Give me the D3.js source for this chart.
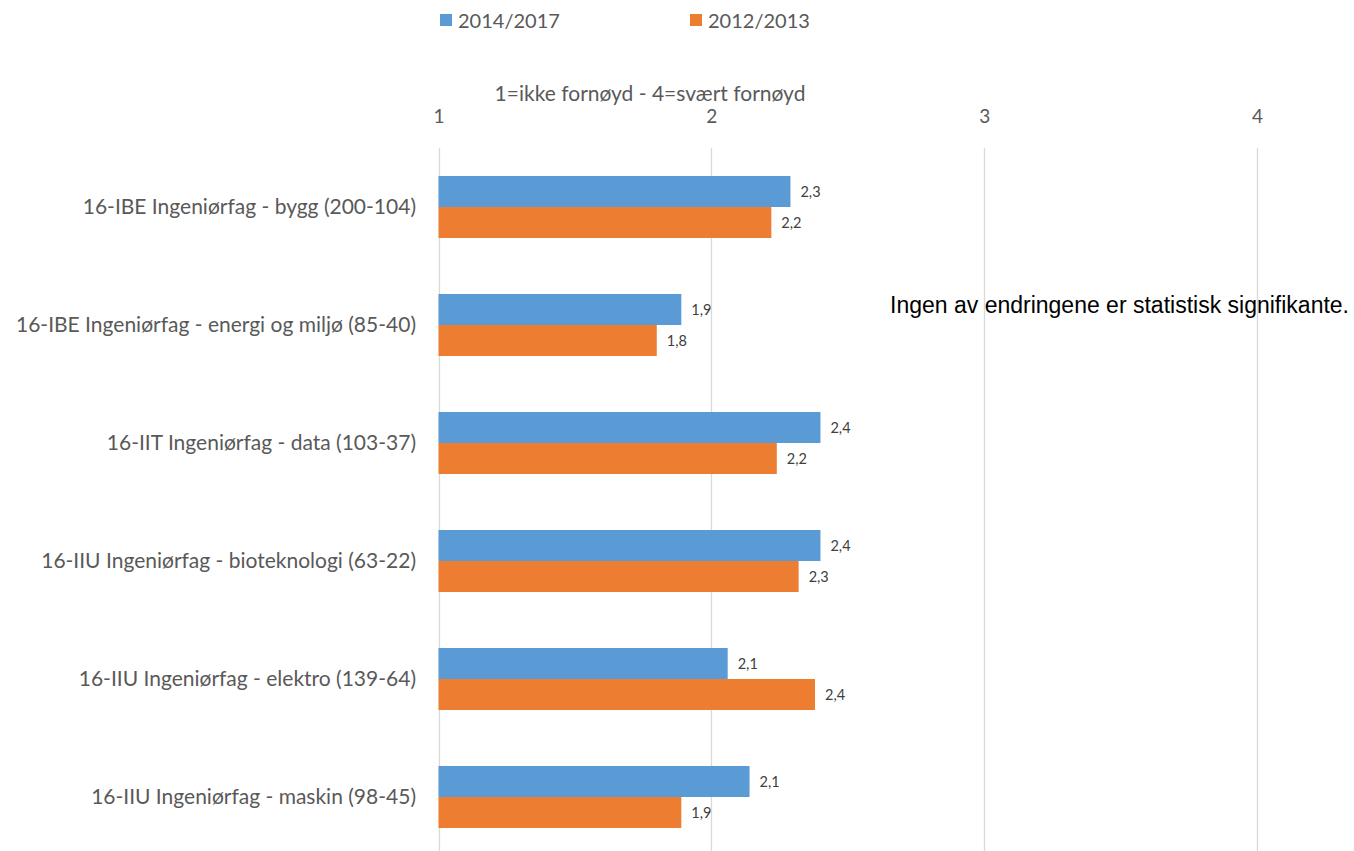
<!DOCTYPE html>
<html><head><meta charset="utf-8">
<script src="https://cdn.jsdelivr.net/npm/d3@7"></script>
<style>body{margin:0;background:#fff}</style>
</head><body>
<svg id="c" width="1354" height="851"></svg>
<script>
const categories = [
  "16-IBE Ingeniørfag - bygg (200-104)",
  "16-IBE Ingeniørfag - energi og miljø (85-40)",
  "16-IIT Ingeniørfag - data (103-37)",
  "16-IIU Ingeniørfag - bioteknologi (63-22)",
  "16-IIU Ingeniørfag - elektro (139-64)",
  "16-IIU Ingeniørfag - maskin (98-45)"
];
const seriesNames = ["2014/2017", "2012/2013"];
const values2014_2017 = [2.29, 1.89, 2.40, 2.40, 2.06, 2.14];
const values2012_2013 = [2.22, 1.80, 2.24, 2.32, 2.38, 1.89];
const xTicks = [1, 2, 3, 4];
const axisTitle = "1=ikke fornøyd - 4=svært fornøyd";
const note = "Ingen av endringene er statistisk signifikante.";
const colors = ["#5b9bd5", "#ed7d31"];

const svg = d3.select("#c");
const x = d3.scaleLinear().domain([1, 4]).range([438.5, 1257]);
const y = d3.scaleBand().domain(categories).range([148, 856]).paddingInner(56/118).paddingOuter(28/118);
const sub = d3.scaleBand().domain(seriesNames).range([0, y.bandwidth()]);
const fmt = v => d3.format(".1f")(v).replace(".", ",");

// gridlines
svg.append("g").selectAll("line").data(xTicks).join("line")
  .attr("x1", d => Math.round(x(d)) + 0.5).attr("x2", d => Math.round(x(d)) + 0.5)
  .attr("y1", 148).attr("y2", 851)
  .attr("stroke", "#d9d9d9").attr("stroke-width", 1.3);

// tick labels
const xAxis = d3.axisTop(x).tickValues(xTicks).tickSize(0).tickFormat(d3.format("d"));
const gx = svg.append("g").attr("transform", "translate(0,126)").call(xAxis);
gx.select(".domain").remove();
gx.selectAll("text").attr("font-family", "Lato, 'Open Sans', sans-serif").attr("font-size", 19).attr("fill", "#595959");

// axis title
svg.append("text").attr("x", 650).attr("y", 101).attr("text-anchor", "middle")
  .attr("font-family", "Lato, 'Open Sans', sans-serif").attr("font-size", 21).attr("fill", "#595959").text(axisTitle);

// bars
const data = categories.map((c, i) => ({c, vals: [values2014_2017[i], values2012_2013[i]]}));
const groups = svg.append("g").selectAll("g").data(data).join("g")
  .attr("transform", d => `translate(0,${y(d.c)})`);
groups.selectAll("rect").data(d => d.vals.map((v, j) => ({v, s: seriesNames[j], j}))).join("rect")
  .attr("x", x(1)).attr("y", d => sub(d.s)).attr("width", d => x(d.v) - x(1)).attr("height", sub.bandwidth())
  .attr("fill", d => colors[d.j]);
groups.selectAll("text").data(d => d.vals.map((v, j) => ({v, s: seriesNames[j], j}))).join("text")
  .attr("x", d => x(d.v) + 10).attr("y", d => sub(d.s) + sub.bandwidth()/2 + 5)
  .attr("font-family", "Lato, 'Open Sans', sans-serif").attr("font-size", 14.5).attr("fill", "#404040")
  .text(d => fmt(d.v));

// category labels
const yAxis = d3.axisLeft(y).tickSize(0).tickPadding(0);
const gy = svg.append("g").attr("transform", "translate(416,0)").call(yAxis);
gy.select(".domain").remove();
gy.selectAll("text").attr("font-family", "Lato, 'Open Sans', sans-serif").attr("font-size", 21).attr("fill", "#595959").attr("dy", "0.35em");

// legend
const leg = svg.append("g").selectAll("g").data(seriesNames).join("g")
  .attr("transform", (d, i) => `translate(${[440, 690][i]},0)`);
leg.append("rect").attr("x", 0).attr("y", 14).attr("width", 12).attr("height", 12).attr("fill", (d, i) => colors[i]);
leg.append("text").attr("x", 18).attr("y", 28).attr("font-family", "Lato, 'Open Sans', sans-serif")
  .attr("font-size", 20).attr("fill", "#595959").text(d => d);

// note
svg.append("text").attr("x", 890).attr("y", 313).attr("font-family", "'Liberation Sans', Arial, sans-serif")
  .attr("font-size", 23).attr("fill", "#000").text(note);
</script>
</body></html>
